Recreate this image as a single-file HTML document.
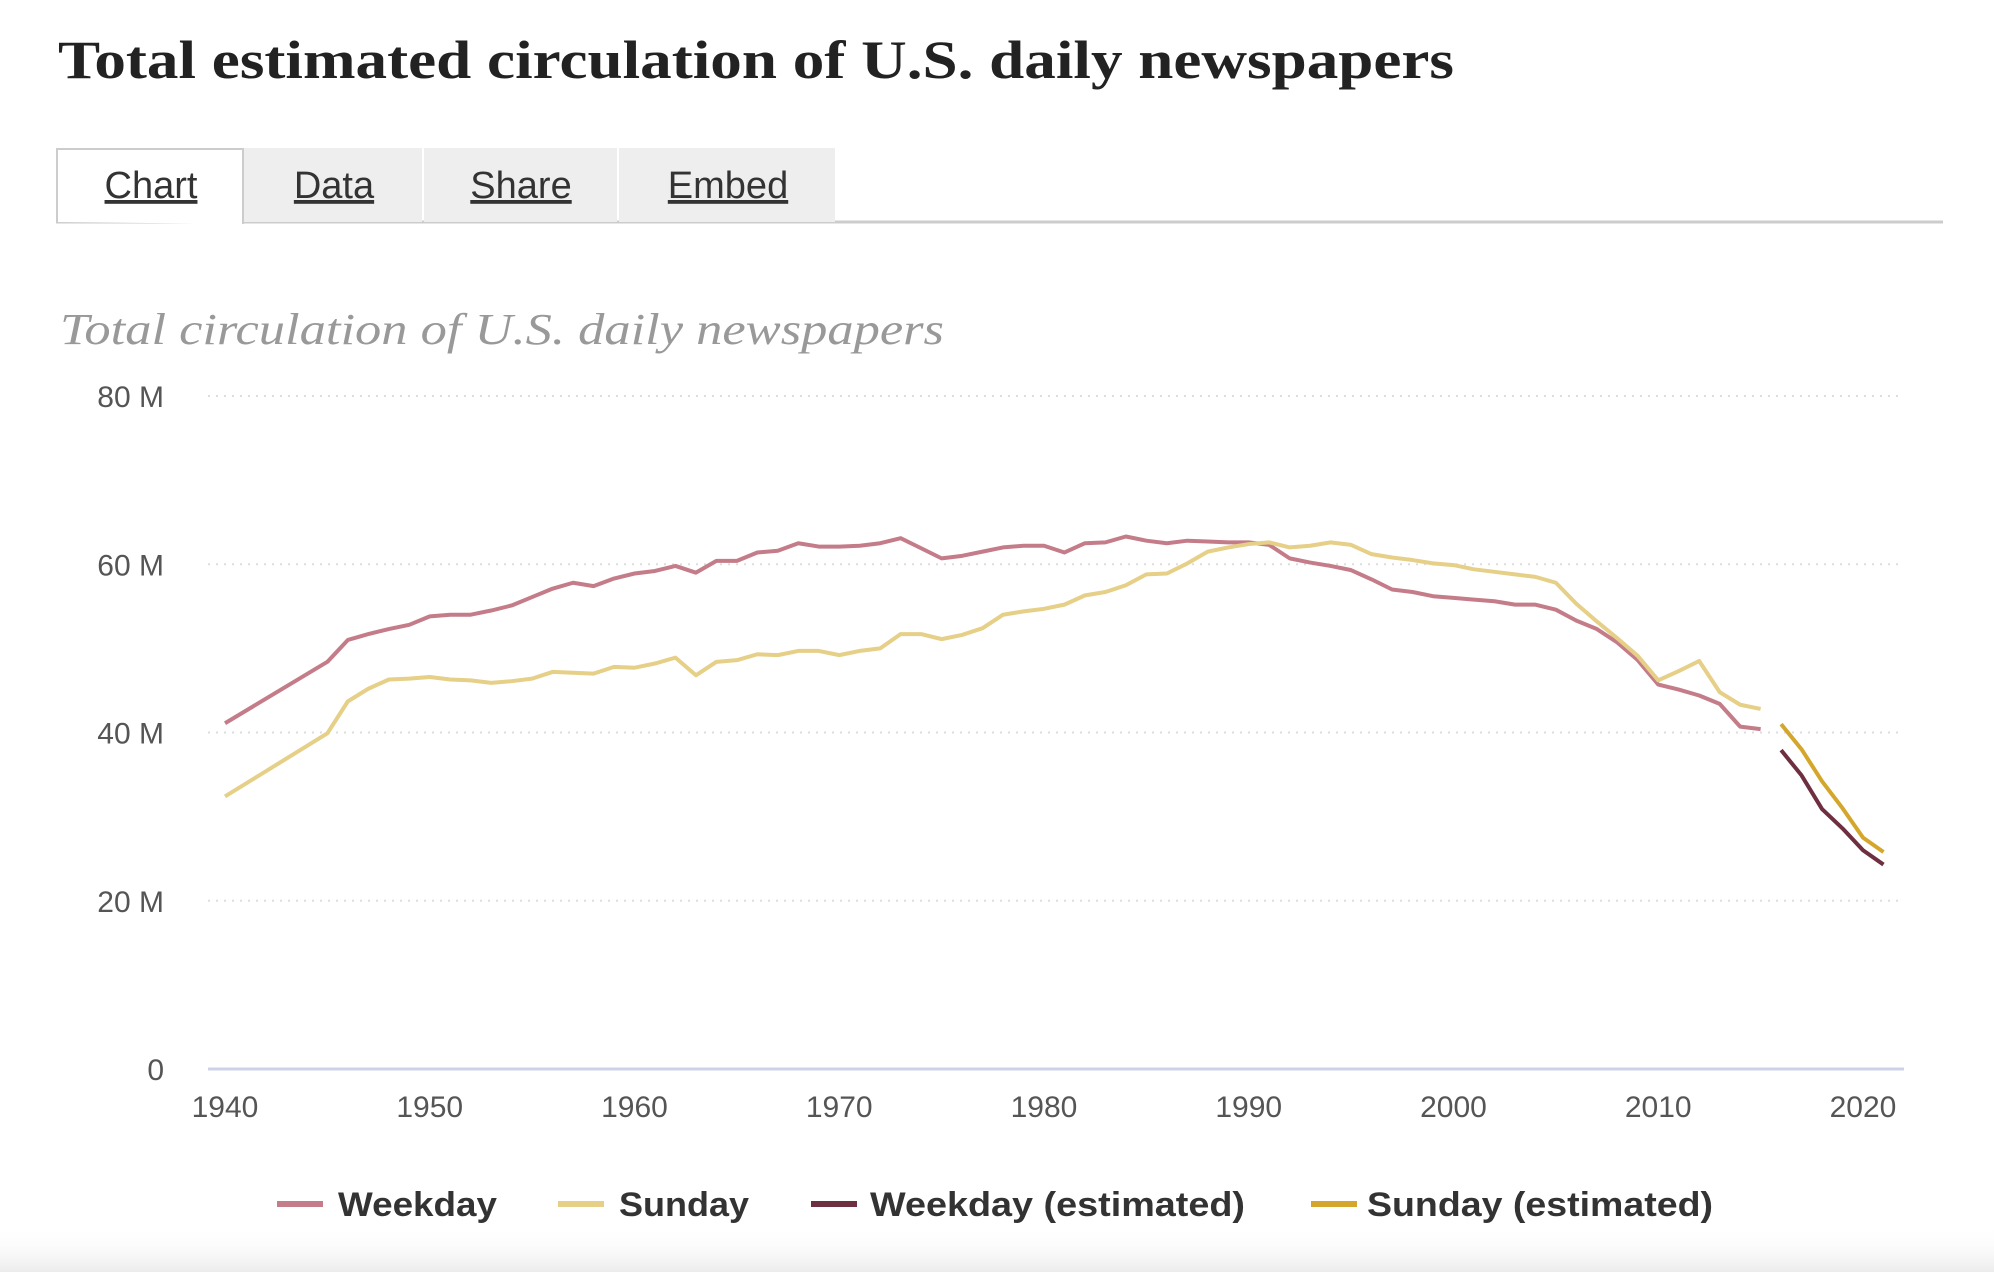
<!DOCTYPE html>
<html><head><meta charset="utf-8"><style>
body{margin:0;background:#fff;width:1994px;height:1272px;overflow:hidden;font-family:"Liberation Sans",sans-serif}
</style></head><body>
<svg width="1994" height="1272" viewBox="0 0 1994 1272" xmlns="http://www.w3.org/2000/svg">
<defs><linearGradient id="sh" x1="0" y1="0" x2="0" y2="1"><stop offset="0" stop-color="#fff" stop-opacity="0"/><stop offset="1" stop-color="#ececec"/></linearGradient></defs>
<rect x="0" y="1225" width="1994" height="47" fill="url(#sh)"/>
<text x="58" y="78" font-family="Liberation Serif, serif" font-weight="bold" font-size="54" fill="#222" textLength="1396" lengthAdjust="spacingAndGlyphs">Total estimated circulation of U.S. daily newspapers</text>
<g>
<line x1="56" y1="222" x2="1943" y2="222" stroke="#ccc" stroke-width="3"/>
<rect x="243" y="148" width="179" height="74" fill="#eee"/>
<rect x="424" y="148" width="193" height="74" fill="#eee"/>
<rect x="619" y="148" width="216" height="74" fill="#eee"/>
<path d="M57 222 V149 H243 V224" fill="#fff" stroke="#ccc" stroke-width="2"/>
<g font-size="38" fill="#333" text-anchor="middle" text-decoration="underline">
<text x="151" y="198">Chart</text>
<text x="334" y="198">Data</text>
<text x="521" y="198">Share</text>
<text x="728" y="198">Embed</text>
</g></g>
<text x="60" y="344" font-family="Liberation Serif, serif" font-style="italic" font-size="44" fill="#999" textLength="884" lengthAdjust="spacingAndGlyphs">Total circulation of U.S. daily newspapers</text>
<g id="plot"></g>
</svg>
<script>
const weekdayYears=[1940,1945,1946,1947,1948,1949,1950,1951,1952,1953,1954,1955,1956,1957,1958,1959,1960,1961,1962,1963,1964,1965,1966,1967,1968,1969,1970,1971,1972,1973,1974,1975,1976,1977,1978,1979,1980,1981,1982,1983,1984,1985,1986,1987,1988,1989,1990,1991,1992,1993,1994,1995,1996,1997,1998,1999,2000,2001,2002,2003,2004,2005,2006,2007,2008,2009,2010,2011,2012,2013,2014,2015];
const weekdayValues=[41.1,48.4,51,51.7,52.3,52.8,53.8,54,54,54.5,55.1,56.1,57.1,57.8,57.4,58.3,58.9,59.2,59.8,59,60.4,60.4,61.4,61.6,62.5,62.1,62.1,62.2,62.5,63.1,61.9,60.7,61,61.5,62,62.2,62.2,61.4,62.5,62.6,63.3,62.8,62.5,62.8,62.7,62.6,62.6,62.3,60.7,60.2,59.8,59.3,58.2,57,56.7,56.2,56,55.8,55.6,55.2,55.2,54.6,53.3,52.3,50.7,48.6,45.7,45.1,44.4,43.4,40.7,40.4];
const sundayValues=[32.4,39.9,43.7,45.2,46.3,46.4,46.6,46.3,46.2,45.9,46.1,46.4,47.2,47.1,47,47.8,47.7,48.2,48.9,46.8,48.4,48.6,49.3,49.2,49.7,49.7,49.2,49.7,50,51.7,51.7,51.1,51.6,52.4,54,54.4,54.7,55.2,56.3,56.7,57.5,58.8,58.9,60.1,61.5,62,62.4,62.6,62,62.2,62.6,62.3,61.2,60.8,60.5,60.1,59.9,59.4,59.1,58.8,58.5,57.8,55.3,53.2,51.2,49.1,46.2,47.3,48.5,44.8,43.3,42.8];
const estYears=[2016,2017,2018,2019,2020,2021];
const weekdayEstValues=[37.9,34.9,30.9,28.6,26,24.3];
const sundayEstValues=[41,38,34.2,31,27.5,25.8];
const yTicks=[0,20,40,60,80];
const yTickLabels=["0","20 M","40 M","60 M","80 M"];
const xTicks=[1940,1950,1960,1970,1980,1990,2000,2010,2020];

const NS="http://www.w3.org/2000/svg";
const g=document.getElementById('plot');
const xS=y=>225+(y-1940)*20.475;
const yS=v=>1069-v*(1069-396)/80;
function mk(t,a){const e=document.createElementNS(NS,t);for(const k in a)e.setAttribute(k,a[k]);g.appendChild(e);return e;}
yTicks.forEach((t,i)=>{
  if(t>0){const l=mk('line',{x1:208,x2:1902,y1:yS(t),y2:yS(t),stroke:'#ddd','stroke-width':2,'stroke-dasharray':'2 6'});
  
  }
  const tx=mk('text',{x:164,y:yS(t)+11,'text-anchor':'end','font-size':30,fill:'#555'});
  tx.textContent=yTickLabels[i];
  
  
});
const base=mk('line',{x1:208,x2:1904,y1:yS(0),y2:yS(0),stroke:'#ccd3e8','stroke-width':3});


xTicks.forEach(t=>{
  const tx=mk('text',{x:xS(t),y:1117,'text-anchor':'middle','font-size':30,fill:'#555'});
  tx.textContent=t;
  
  
});
function line(xs,vs,c,name){
  const p=mk('polyline',{points:xs.map((x,i)=>xS(x)+','+yS(vs[i])).join(' '),fill:'none',stroke:c,'stroke-width':4,'stroke-linejoin':'round'});
  
  
}
line(weekdayYears,weekdayValues,'#c47c89','weekday-line');
line(weekdayYears,sundayValues,'#e6cf86','sunday-line');
line(estYears,weekdayEstValues,'#6e2f40','weekday-estimated-line');
line(estYears,sundayEstValues,'#d4a72c','sunday-estimated-line');
const leg=[[277,338,'#c47c89','Weekday',159],[558,619,'#e6cf86','Sunday',130],[811,870,'#6e2f40','Weekday (estimated)',375],[1311,1367,'#d4a72c','Sunday (estimated)',346]];
leg.forEach(l=>{
  const r=mk('rect',{x:l[0],y:1201,width:46,height:6,fill:l[2]});
  
  
  const t=mk('text',{x:l[1],y:1216,'font-size':34,'font-weight':'bold',fill:'#333',textLength:l[4],lengthAdjust:'spacingAndGlyphs'});
  t.textContent=l[3];
  
  
});
</script>
</body></html>
